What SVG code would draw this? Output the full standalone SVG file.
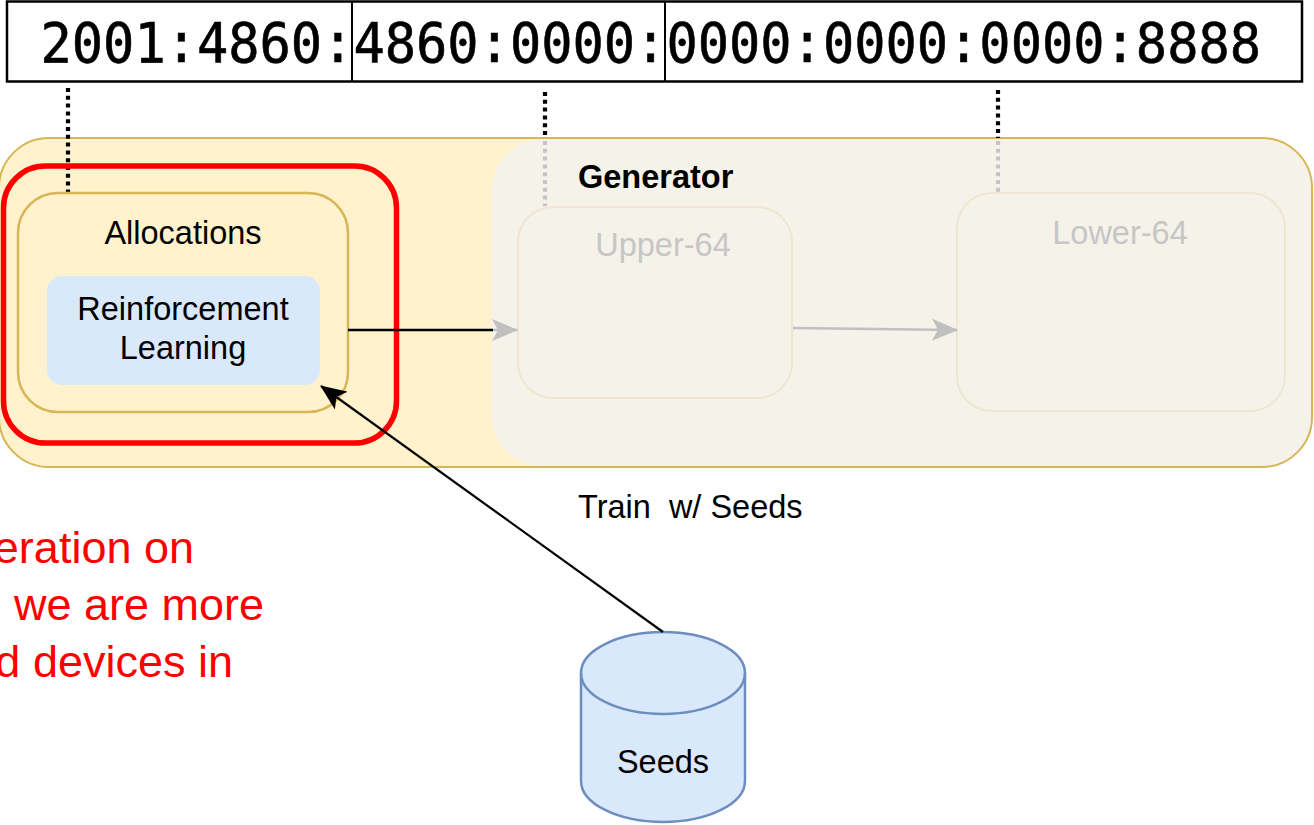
<svg xmlns="http://www.w3.org/2000/svg" width="1314" height="825" viewBox="0 0 1314 825">
  <style>
    .sans { font-family: "Liberation Sans", Arial, Helvetica, sans-serif; }
    .label { font-size: 32.5px; fill: #000; text-anchor: middle; }
    .faint { font-size: 32.5px; fill: #c6c6c6; text-anchor: middle; }
    .dots { stroke: #000; stroke-width: 4.2; stroke-dasharray: 4 3.8; fill: none; }
    .dots-faint { stroke: #c4c4c4; stroke-width: 4.2; stroke-dasharray: 4 3.8; fill: none; }
    .note { font-size: 45px; fill: #ff0000; text-anchor: end; }
  </style>
  <defs>
    <marker id="arrow-black" markerUnits="userSpaceOnUse" viewBox="0 0 26 22" markerWidth="26" markerHeight="22" refX="25" refY="11" orient="auto">
      <path d="M0,0 L26,11 L0,22 L6,11 Z" fill="#000"/>
    </marker>
    <marker id="arrow-grey" markerUnits="userSpaceOnUse" viewBox="0 0 26 22" markerWidth="26" markerHeight="22" refX="25" refY="11" orient="auto">
      <path d="M0,0 L26,11 L0,22 L6,11 Z" fill="#c0c0c0"/>
    </marker>
  </defs>

  <rect width="1314" height="825" fill="#ffffff"/>

  <!-- IPv6 address bar -->
  <g id="address">
    <rect x="7" y="1.5" width="1295" height="80" fill="#fff" stroke="#000" stroke-width="2.5"/>
    <line x1="352" y1="1.5" x2="352" y2="81.5" stroke="#000" stroke-width="2"/>
    <line x1="665" y1="1.5" x2="665" y2="81.5" stroke="#000" stroke-width="2"/>
    <text transform="translate(0,62) scale(1,1.05) translate(0,-62)" x="40.5" y="62" font-family="'DejaVu Sans Mono', 'Liberation Mono', monospace" font-size="52" fill="#000" stroke="#000" stroke-width="0.6">2001:4860:4860:0000:0000:0000:0000:8888</text>
  </g>

  <!-- outer container and generator panel -->
  <g id="container">
    <rect x="-1" y="138" width="1313" height="329" rx="50" fill="#fff2cc"/>
  </g>
  <g id="generator">
    <rect x="492" y="139.5" width="820" height="326.5" rx="50" fill="#f5f2ea"/>
    <text x="578" y="188" class="sans" font-size="32.5" font-weight="bold" fill="#000">Generator</text>
  </g>
  <rect x="-1" y="138" width="1313" height="329" rx="50" fill="none" stroke="#d6b656" stroke-width="2"/>

  <!-- dotted guides from the address segments -->
  <g id="guides">
    <line class="dots" x1="68" y1="88" x2="68" y2="202"/>
    <line class="dots" x1="545" y1="92" x2="545" y2="138"/>
    <line class="dots-faint" x1="545" y1="141" x2="545" y2="206"/>
    <line class="dots" x1="998" y1="90" x2="998" y2="138"/>
    <line class="dots-faint" x1="998" y1="141" x2="998" y2="192"/>
  </g>

  <g id="allocations">
    <rect x="18" y="193" width="330" height="219" rx="40" fill="#fff2cc" stroke="#d6b656" stroke-width="2.5"/>
    <text x="183" y="244" class="sans label">Allocations</text>
  </g>

  <g id="reinforcement-learning">
    <rect x="47" y="276" width="273" height="109" rx="15" fill="#dae8fc"/>
    <text x="183" y="320" class="sans label">Reinforcement</text>
    <text x="183" y="359" class="sans label">Learning</text>
  </g>

  <g id="upper-64">
    <rect x="518" y="207" width="274" height="191" rx="35" fill="#f5f2ea" stroke="#eee6cf" stroke-width="2"/>
    <text x="663" y="256" class="sans faint">Upper-64</text>
  </g>

  <g id="lower-64">
    <rect x="957" y="193" width="328" height="218" rx="35" fill="#f5f2ea" stroke="#eee6cf" stroke-width="2"/>
    <text x="1120" y="244" class="sans faint">Lower-64</text>
  </g>

  <!-- highlight around the allocation block -->
  <rect id="highlight" x="3.5" y="166" width="393" height="277" rx="42" fill="none" stroke="#ff0000" stroke-width="5.5"/>

  <g id="seeds">
    <path d="M581,673 A82,41 0 0 1 745,673 L745,781 A82,41 0 0 1 581,781 Z" fill="#dae8fc" stroke="#6c8ebf" stroke-width="2.5"/>
    <path d="M581,673 A82,41 0 0 0 745,673" fill="none" stroke="#6c8ebf" stroke-width="2.5"/>
    <text x="663" y="773" class="sans label">Seeds</text>
  </g>

  <g id="connectors">
    <line x1="348" y1="330" x2="493" y2="330" stroke="#000" stroke-width="2.5"/>
    <line x1="493" y1="330" x2="517" y2="330" stroke="#c0c0c0" stroke-width="2.5" marker-end="url(#arrow-grey)"/>
    <line x1="793" y1="328" x2="957" y2="330" stroke="#c0c0c0" stroke-width="2.5" marker-end="url(#arrow-grey)"/>
    <line x1="663" y1="632" x2="321" y2="386" stroke="#000" stroke-width="2.2" marker-end="url(#arrow-black)"/>
  </g>

  <text x="578" y="518" class="sans" font-size="32.5" fill="#000" style="white-space:pre">Train  w/ Seeds</text>

  <g id="note">
    <text x="194" y="563" class="sans note">eration on</text>
    <text x="264" y="620" class="sans note">we are more</text>
    <text x="233" y="677" class="sans note">d devices in</text>
  </g>
</svg>
